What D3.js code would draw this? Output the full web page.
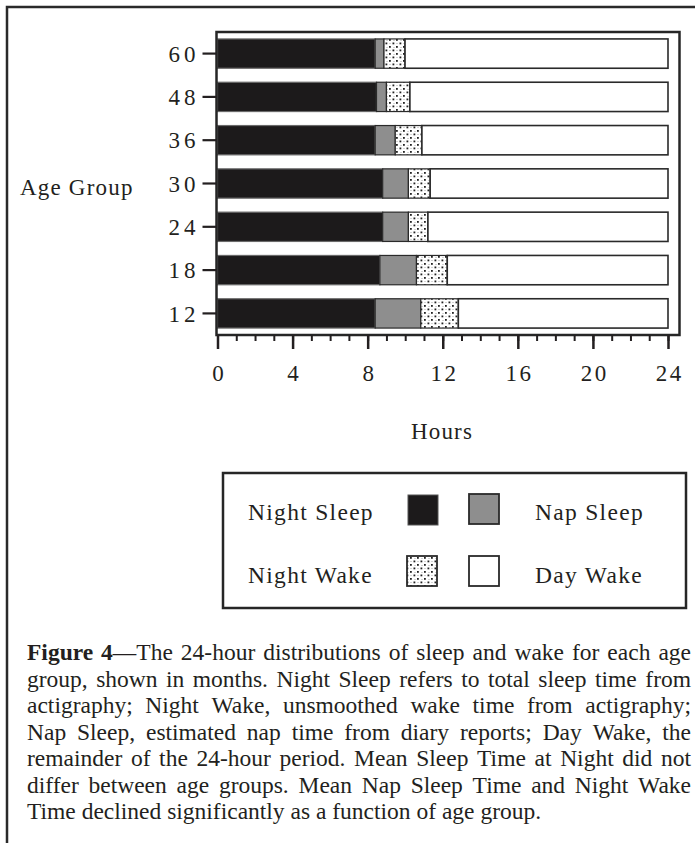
<!DOCTYPE html>
<html>
<head>
<meta charset="utf-8">
<script src="https://cdn.jsdelivr.net/npm/d3@7"></script>
<style>
  html, body { margin: 0; padding: 0; background: #fff; }
  svg { display: block; }
  text { font-family: "Liberation Serif", "Times New Roman", serif; fill: #231f20; }
</style>
</head>
<body>
<svg id="chart" width="695" height="843"></svg>
<script>
// ---------------- data ----------------
const ageGroups = ["60", "48", "36", "30", "24", "18", "12"];
const nightSleep = [8.4, 8.47, 8.4, 8.8, 8.8, 8.65, 8.4];
const napSleep   = [0.47, 0.53, 1.07, 1.37, 1.37, 1.95, 2.43];
const nightWake  = [1.12, 1.25, 1.42, 1.16, 1.04, 1.64, 2.0];
const dayWake    = [14.01, 13.75, 13.11, 12.67, 12.79, 11.76, 11.17];
const seriesNames = ["Night Sleep", "Nap Sleep", "Night Wake", "Day Wake"];
const xTicks = [0, 4, 8, 12, 16, 20, 24];
const xMinorTicks = d3.range(0, 25, 1);
const captionLines = [
  "**Figure 4**—The 24-hour distributions of sleep and wake for each age",
  "group, shown in months. Night Sleep refers to total sleep time from",
  "actigraphy; Night Wake, unsmoothed wake time from actigraphy;",
  "Nap Sleep, estimated nap time from diary reports; Day Wake, the",
  "remainder of the 24-hour period. Mean Sleep Time at Night did not",
  "differ between age groups. Mean Nap Sleep Time and Night Wake",
  "Time declined significantly as a function of age group."
];

const rows = ageGroups.map((a, i) => ({
  age: a,
  "Night Sleep": nightSleep[i],
  "Nap Sleep": napSleep[i],
  "Night Wake": nightWake[i],
  "Day Wake": dayWake[i]
}));

const svg = d3.select("#chart");
const ink = "#231f20";

// pattern for night wake
const defs = svg.append("defs");
const pat = defs.append("pattern")
  .attr("id", "stipple").attr("patternUnits", "userSpaceOnUse")
  .attr("width", 7).attr("height", 7);
pat.append("rect").attr("width", 7).attr("height", 7).attr("fill", "#fff");
pat.append("rect").attr("x", 0.5).attr("y", 0.5).attr("width", 1.8).attr("height", 1.8).attr("fill", "#222");
pat.append("rect").attr("x", 4).attr("y", 4).attr("width", 1.8).attr("height", 1.8).attr("fill", "#222");
pat.append("rect").attr("x", 4.5).attr("y", 1).attr("width", 1).attr("height", 1).attr("fill", "#aaa");
pat.append("rect").attr("x", 1.5).attr("y", 5).attr("width", 1).attr("height", 1).attr("fill", "#aaa");

const fills = {
  "Night Sleep": "#1c1a1b",
  "Nap Sleep": "#8e8e8e",
  "Night Wake": "url(#stipple)",
  "Day Wake": "#ffffff"
};

// outer figure border (top & left)
svg.append("path")
  .attr("d", "M7,843 L7,7 L695,7")
  .attr("fill", "none").attr("stroke", "#2a2a2a").attr("stroke-width", 2.5);

// ---------------- scales ----------------
const x = d3.scaleLinear().domain([0, 24]).range([217.5, 668]);
const frame = { x0: 216.5, x1: 679.5, y0: 32, y1: 335 };
const y = d3.scaleBand().domain(ageGroups).range([frame.y0, frame.y1])
  .paddingInner(0.323).paddingOuter(0.16);

// bars
const stack = d3.stack().keys(seriesNames)(rows);
const gBars = svg.append("g");
stack.forEach(layer => {
  const key = layer.key;
  gBars.selectAll(null).data(layer).enter().append("rect")
    .attr("x", d => x(d[0]))
    .attr("y", d => y(d.data.age))
    .attr("width", d => x(d[1]) - x(d[0]))
    .attr("height", y.bandwidth())
    .attr("fill", fills[key])
    .attr("stroke", key === "Night Sleep" ? "#6a6a6a" : "#2a2a2a")
    .attr("stroke-width", key === "Day Wake" ? 1.6 : 1.2);
});

// plot frame
svg.append("rect")
  .attr("x", frame.x0).attr("y", frame.y0)
  .attr("width", frame.x1 - frame.x0).attr("height", frame.y1 - frame.y0)
  .attr("fill", "none").attr("stroke", "#262626").attr("stroke-width", 2.5);

// y axis ticks and labels
const yAxis = d3.axisLeft(y).tickSize(14).tickPadding(3);
const gy = svg.append("g").attr("transform", `translate(${frame.x0},0)`).call(yAxis);
gy.select(".domain").remove();
gy.selectAll(".tick line").attr("stroke", ink).attr("stroke-width", 2.2);
gy.selectAll(".tick text")
  .attr("font-size", 23).attr("fill", ink).attr("font-family", "Liberation Serif")
  .style("letter-spacing", "4px").attr("dy", "0.36em");

// x axis (minor + major)
const gxMinor = svg.append("g").attr("transform", `translate(0,${frame.y1})`)
  .call(d3.axisBottom(x).tickValues(xMinorTicks).tickSize(6).tickFormat(""));
gxMinor.select(".domain").remove();
gxMinor.selectAll(".tick line").attr("stroke", ink).attr("stroke-width", 2);

const gx = svg.append("g").attr("transform", `translate(0,${frame.y1})`)
  .call(d3.axisBottom(x).tickValues(xTicks).tickSize(14).tickPadding(16).tickFormat(d3.format("d")));
gx.select(".domain").remove();
gx.selectAll(".tick line").attr("stroke", ink).attr("stroke-width", 2.5);
gx.selectAll(".tick text")
  .attr("font-size", 23).attr("fill", ink).attr("font-family", "Liberation Serif")
  .attr("dx", 1.25)
  .style("letter-spacing", "2.5px");

// axis titles
svg.append("text").attr("x", 20).attr("y", 195)
  .attr("font-size", 23).style("letter-spacing", "1.2px").text("Age Group");
svg.append("text").attr("x", 442).attr("y", 439).attr("text-anchor", "middle")
  .attr("font-size", 23).style("letter-spacing", "1.2px").text("Hours");

// ---------------- legend ----------------
svg.append("rect").attr("x", 223).attr("y", 473).attr("width", 463).attr("height", 135)
  .attr("fill", "#fff").attr("stroke", "#262626").attr("stroke-width", 2.5);

const legendItems = [
  { name: "Night Sleep", tx: 248, ty: 520, sx: 408, sy: 495 },
  { name: "Nap Sleep",   tx: 535, ty: 520, sx: 469, sy: 494 },
  { name: "Night Wake",  tx: 248, ty: 583, sx: 407, sy: 556 },
  { name: "Day Wake",    tx: 535, ty: 583, sx: 469, sy: 556 }
];
legendItems.forEach(it => {
  svg.append("rect").attr("x", it.sx).attr("y", it.sy).attr("width", 30).attr("height", 30)
    .attr("fill", fills[it.name])
    .attr("stroke", it.name === "Night Sleep" ? "#555" : "#2a2a2a")
    .attr("stroke-width", it.name === "Night Sleep" ? 1 : 1.8);
  svg.append("text").attr("x", it.tx).attr("y", it.ty)
    .attr("font-size", 23.5).style("letter-spacing", "1.3px").text(it.name);
});

// ---------------- caption (justified) ----------------
const capLeft = 27, capRight = 691, capBase = 660, capLead = 26.5, capSize = 23.5;
let bold = false;
captionLines.forEach((line, li) => {
  const words = line.split(" ");
  const nodes = [];
  let total = 0;
  words.forEach(w => {
    const t = svg.append("text").attr("y", capBase + li * capLead).attr("font-size", capSize);
    const parts = w.split("**");
    parts.forEach((p, pi) => {
      if (pi > 0) bold = !bold;
      if (p.length) t.append("tspan").attr("font-weight", bold ? "bold" : "normal").text(p);
    });
    const wl = t.node().getComputedTextLength();
    nodes.push({ t, wl });
    total += wl;
  });
  const isLast = li === captionLines.length - 1;
  const natSpace = capSize * 0.25;
  const gap = isLast ? natSpace : (capRight - capLeft - total) / (words.length - 1);
  let cx = capLeft;
  nodes.forEach(n => { n.t.attr("x", cx); cx += n.wl + gap; });
});
</script>
</body>
</html>
